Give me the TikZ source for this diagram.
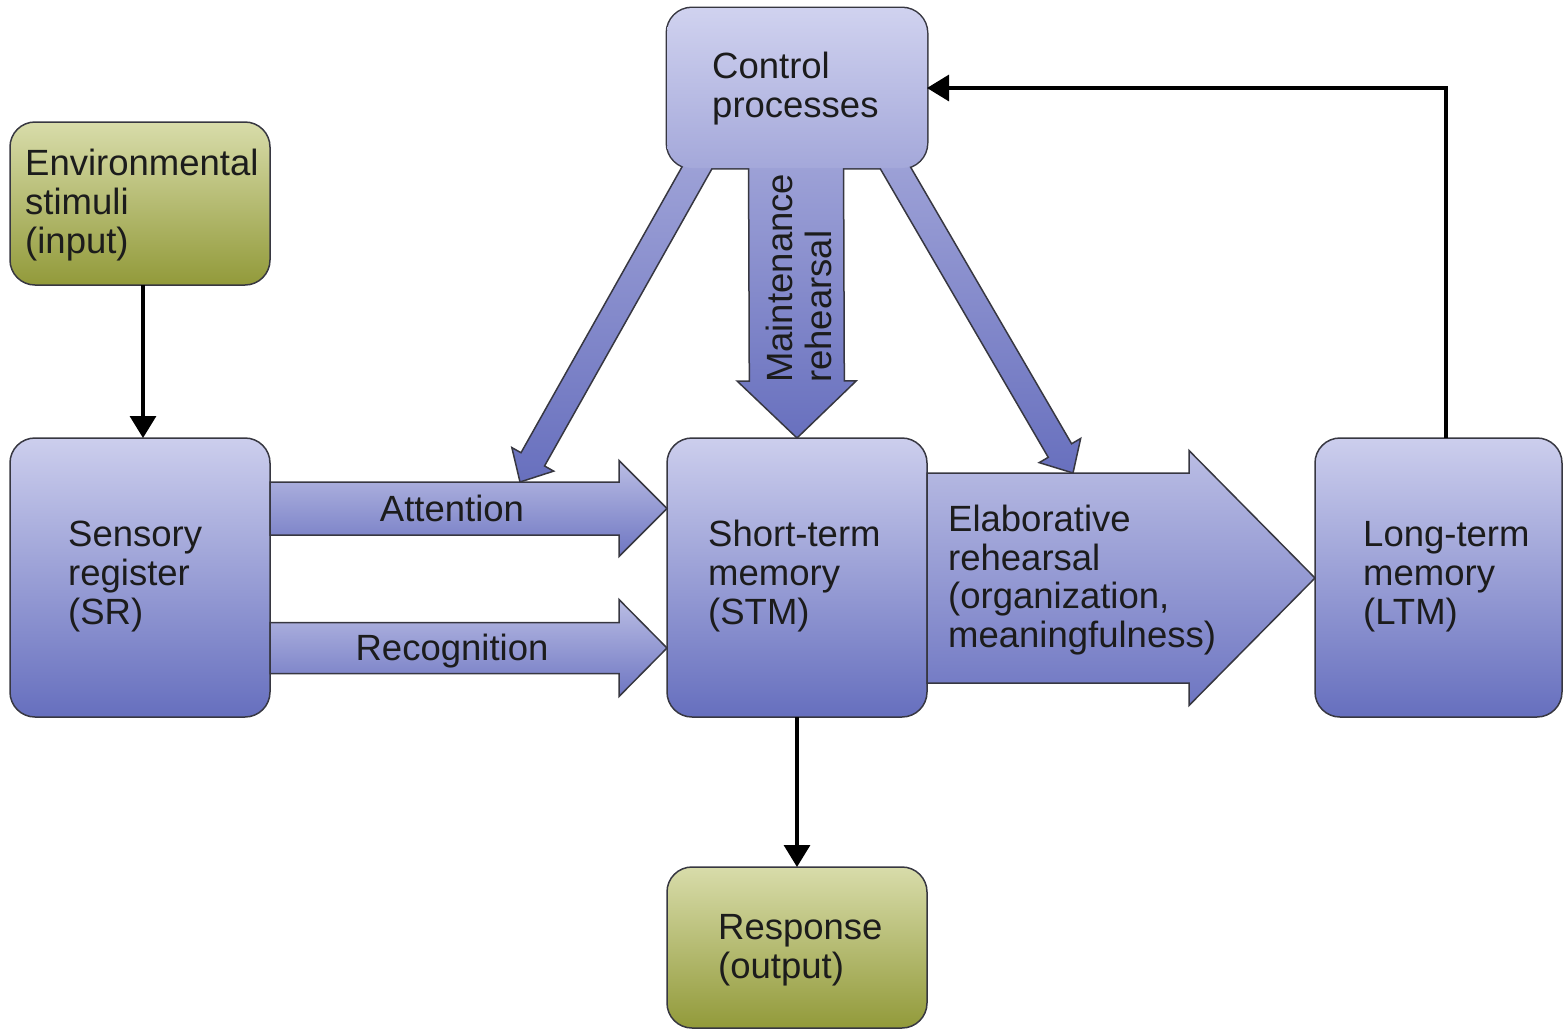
\documentclass[tikz,border=0pt]{standalone}
\usepackage{fontspec}
\setmainfont{Liberation Sans}
\usetikzlibrary{arrows.meta,calc}
\definecolor{blueT}{RGB}{204,206,237}
\definecolor{blueB}{RGB}{102,111,190}
\definecolor{ctrlT}{RGB}{208,210,239}
\definecolor{ctrlB}{RGB}{164,168,218}
\definecolor{arrT}{RGB}{186,189,228}
\definecolor{arrB}{RGB}{110,118,194}
\definecolor{diagT}{RGB}{160,164,216}
\definecolor{diagB}{RGB}{104,112,190}
\definecolor{greenT}{RGB}{216,220,170}
\definecolor{greenB}{RGB}{146,154,58}
\definecolor{edge}{RGB}{55,55,65}
\definecolor{txt}{RGB}{28,28,28}
\newcommand{\FatArr}[6]{%
  \path ($(#3)!#6!(#2)$) coordinate (fa-h);
  \path[#1] ($(#2)!#4!90:(#3)$) -- ($(fa-h)!#4!90:(#3)$) -- ($(fa-h)!#5!90:(#3)$) -- (#3)
    -- ($(fa-h)!#5!-90:(#3)$) -- ($(fa-h)!#4!-90:(#3)$) -- ($(#2)!#4!-90:(#3)$) -- cycle;}
\tikzset{
  boxline/.style={draw=edge, line width=1.5pt},
  basebox/.style={rectangle, rounded corners=25pt, boxline, inner sep=0pt, outer sep=0pt},
  bluebox/.style={basebox, top color=blueT, bottom color=blueB},
  greenbox/.style={basebox, top color=greenT, bottom color=greenB},
  ctrlbox/.style={basebox, top color=ctrlT, bottom color=ctrlB},
  fathoriz/.style={boxline, line join=miter, top color=arrT, bottom color=arrB},
  fatdiag/.style={boxline, line join=miter, top color=diagT, bottom color=diagB},
  blk/.style={line width=3.2pt, draw=black, -{Triangle[length=22pt,width=26pt]}},
  lbl/.style={font=\fontsize{36.5}{38.7}\selectfont, align=left, inner sep=0pt, text=txt}
}
\begin{document}
\begin{tikzpicture}[x=1pt,y=-1pt]
\useasboundingbox (0,0) rectangle (1564,1029);
\clip (0,0) rectangle (1564,1029);

% boxes
\node[greenbox, minimum width=260pt, minimum height=163pt] (env) at (140,203.5) {};
\node[bluebox, minimum width=260pt, minimum height=279pt] (sr) at (140,577.5) {};
\node[bluebox, minimum width=260pt, minimum height=279pt] (stm) at (797,577.5) {};
\node[bluebox, minimum width=247pt, minimum height=279pt] (ltm) at (1438.5,577.5) {};
\node[greenbox, minimum width=260pt, minimum height=161pt] (resp) at (797,947.5) {};

% horizontal fat arrows
\coordinate (attS) at (sr.east |- 0,508.5);
\coordinate (attT) at (stm.west |- 0,508.5);
\FatArr{fathoriz}{attS}{attT}{26.5pt}{48pt}{48pt}
\coordinate (recS) at (sr.east |- 0,648);
\coordinate (recT) at (stm.west |- 0,648);
\FatArr{fathoriz}{recS}{recT}{25.5pt}{48.5pt}{48pt}
\coordinate (elS) at (stm.east |- 0,578);
\coordinate (elT) at (ltm.west |- 0,578);
\FatArr{fathoriz}{elS}{elT}{105pt}{127.5pt}{126pt}

% control processes cluster
\node[ctrlbox, line width=3pt, minimum width=260pt, minimum height=160pt] (ctrl) at (797,88) {};
\coordinate (lS) at (707,150);
\coordinate (lT) at (520,482);
\FatArr{fatdiag}{lS}{lT}{13.5pt}{24pt}{26pt}
\coordinate (rS) at (885,150);
\coordinate (rT) at (1073,473);
\FatArr{fatdiag}{rS}{rT}{13.5pt}{24pt}{26pt}
\coordinate (mS) at (796,150);
\coordinate (mT) at (stm.north);
\FatArr{fatdiag}{mS}{mT}{47.5pt}{59.5pt}{57pt}
\shade[top color=ctrlT, bottom color=ctrlB, rounded corners=25pt]
  (ctrl.north west) rectangle (ctrl.south east);

% black connectors
\draw[blk] ([xshift=3pt]env.south) -- ([xshift=3pt]sr.north);
\draw[blk] (stm.south) -- (resp.north);
\coordinate (fb) at (1446,88);
\draw[blk] (ltm.north -| fb) |- (ctrl.east);

% texts (base anchor = baseline of the last line)
\node[lbl, anchor=base west] (envt) at (25,253) {Environmental\\stimuli\\(input)};
\node[lbl, anchor=base west] (ctrlt) at (712,117.5) {Control\\processes};
\node[lbl, anchor=base west] (srt) at (68,624) {Sensory\\register\\(SR)};
\node[lbl, anchor=base west] (stmt) at (708,624) {Short-term\\memory\\(STM)};
\node[lbl, anchor=base west] (elt) at (948,647.5) {Elaborative\\rehearsal\\(organization,\\meaningfulness)};
\node[lbl, anchor=base west] (ltmt) at (1363,624) {Long-term\\memory\\(LTM)};
\node[lbl, anchor=base west] (respt) at (718,978.5) {Response\\(output)};
\node[lbl, anchor=base] (attt) at (452,521) {Attention};
\node[lbl, anchor=base] (rect) at (452,660) {Recognition};
\node[lbl, anchor=base west, rotate=90] (maint) at (831,383) {Maintenance\\rehearsal};
\end{tikzpicture}
\end{document}
